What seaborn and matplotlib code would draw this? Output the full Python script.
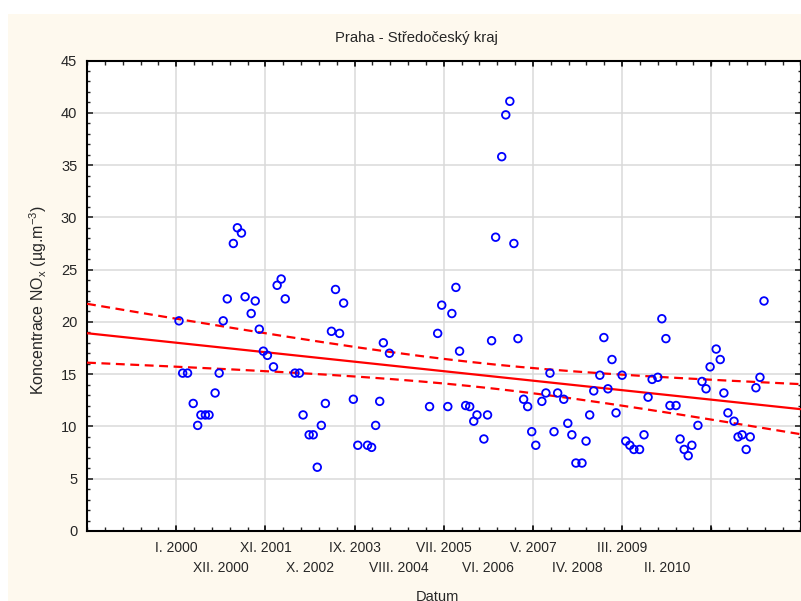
import numpy as np
import pandas as pd
import matplotlib
matplotlib.use("Agg")
import matplotlib.pyplot as plt
from matplotlib.patches import Rectangle
from matplotlib.ticker import MultipleLocator, FixedLocator, NullFormatter
import seaborn as sns

# Measurement time, months since January 2000
months = [0.7, 1.6, 2.8, 4.2, 5.3, 6.1, 7.2, 8.1, 9.6, 10.6, 11.6, 12.6,
          14.1, 15.1, 16.1, 17.0, 18.5, 19.5, 20.5, 21.5, 22.5, 24.0, 24.9,
          25.9, 26.9, 29.3, 30.4, 31.3, 32.8, 33.8, 34.8, 35.8, 36.8, 38.3,
          39.3, 40.3, 41.3, 43.7, 44.8, 47.2, 48.2, 49.2, 50.2, 51.1, 52.6,
          62.5, 64.5, 65.5, 67.0, 68.0, 69.0, 69.9, 71.4, 72.4, 73.4, 74.2,
          75.9, 76.8, 77.8, 78.8, 80.3, 81.3, 82.3, 83.3, 84.3, 85.7, 86.7,
          87.7, 88.7, 90.2, 91.2, 92.2, 93.2, 94.1, 95.6, 96.6, 97.6, 98.6,
          100.1, 101.1, 102.0, 103.0, 104.5, 105.5, 106.5, 107.5, 108.5,
          110.0, 110.9, 111.9, 112.9, 114.3, 115.4, 116.4, 117.4, 118.8,
          119.8, 120.8, 121.8, 123.3, 124.3, 125.3, 126.3, 127.2, 128.7,
          129.7, 130.7, 131.7, 133.2, 134.2, 135.1, 136.1, 137.6, 138.6,
          139.6, 140.6, 141.6, 143.0, 144.0, 145.0]

# NOx concentration (ug/m3)
nox = [20.1, 15.1, 15.1, 12.2, 10.1, 11.1, 11.1, 11.1, 13.2, 15.1, 20.1, 22.2,
       27.5, 29.0, 28.5, 22.4, 20.8, 22.0, 19.3, 17.2, 16.8, 15.7, 23.5,
       24.1, 22.2, 15.1, 15.1, 11.1, 9.2, 9.2, 6.1, 10.1, 12.2, 19.1,
       23.1, 18.9, 21.8, 12.6, 8.2, 8.2, 8.0, 10.1, 12.4, 18.0, 17.0,
       11.9, 18.9, 21.6, 11.9, 20.8, 23.3, 17.2, 12.0, 11.9, 10.5, 11.1,
       8.8, 11.1, 18.2, 28.1, 35.8, 39.8, 41.1, 27.5, 18.4, 12.6, 11.9,
       9.5, 8.2, 12.4, 13.2, 15.1, 9.5, 13.2, 12.6, 10.3, 9.2, 6.5,
       6.5, 8.6, 11.1, 13.4, 14.9, 18.5, 13.6, 16.4, 11.3,
       14.9, 8.6, 8.2, 7.8, 7.8, 9.2, 12.8, 14.5, 14.7,
       20.3, 18.4, 12.0, 12.0, 8.8, 7.8, 7.2, 8.2, 10.1,
       14.3, 13.6, 15.7, 17.4, 16.4, 13.2, 11.3, 10.5, 9.0,
       9.2, 7.8, 9.0, 13.7, 14.7, 22.0]

tick_months = [0, 11, 22, 33, 44, 55, 66, 77, 88, 99, 110, 121]
tick_labels = ["I. 2000", "XII. 2000", "XI. 2001", "X. 2002", "IX. 2003",
               "VIII. 2004", "VII. 2005", "VI. 2006", "V. 2007", "IV. 2008",
               "III. 2009", "II. 2010"]

df = pd.DataFrame({"Datum": months, "NOx": nox})

sns.set_style("ticks")
FONT = ["Liberation Sans", "DejaVu Sans"]
plt.rcParams["font.family"] = FONT
plt.rcParams["mathtext.default"] = "regular"

W, H = 801, 601
fig = plt.figure(figsize=(W / 100, H / 100), dpi=100)
fig.patch.set_facecolor("white")
fig.patches.append(Rectangle((8 / W, 0), 1, (H - 14) / H, transform=fig.transFigure,
                             facecolor="#FEF9EE", edgecolor="none", zorder=-10))

AX_TOP, AX_BOT = 60.5, 531
ax = fig.add_axes([87 / W, (H - AX_BOT) / H, (800.5 - 87) / W, (AX_BOT - AX_TOP) / H])
ax.set_facecolor("white")

XMIN, XMAX = -22, 154
ax.set_xlim(XMIN, XMAX)
ax.set_ylim(0, 45)

# grid
for gx in np.arange(XMIN, XMAX + 1, 22):
    ax.axvline(gx, color="#DADADA", lw=1.1, zorder=0)
for gy in np.arange(5, 45, 5):
    ax.axhline(gy, color="#DADADA", lw=1.1, zorder=0)

# regression line (extended over the full axis range)
sns.regplot(data=df, x="Datum", y="NOx", scatter=False, ci=None, truncate=False,
            line_kws=dict(color="#FF0000", lw=1.6, zorder=3), ax=ax)

# 95 % confidence band of the fitted line
x = np.asarray(months, float)
y = np.asarray(nox, float)
n = len(x)
b, a = np.polyfit(x, y, 1)
resid = y - (a + b * x)
s = np.sqrt(np.sum(resid ** 2) / (n - 2))
xg = np.linspace(XMIN, XMAX, 200)
se = s * np.sqrt(1 / n + (xg - x.mean()) ** 2 / np.sum((x - x.mean()) ** 2))
t = 1.98
band = pd.DataFrame({"x": xg, "lo": a + b * xg - t * se, "hi": a + b * xg + t * se})
for col in ("lo", "hi"):
    sns.lineplot(data=band, x="x", y=col, color="#FF0000", lw=1.6,
                 dashes=False, ax=ax, zorder=3)
for ln in ax.lines[-2:]:
    ln.set_linestyle((0, (4, 2.5)))

# data points
sns.scatterplot(data=df, x="Datum", y="NOx", marker="o", s=30,
                facecolor="none", edgecolor="#0000FF", linewidth=1.3,
                ax=ax, zorder=4)

# axes styling
for sp in ax.spines.values():
    sp.set_visible(True)
    sp.set_color("black")
    sp.set_linewidth(1.5)

ax.yaxis.set_major_locator(MultipleLocator(5))
ax.yaxis.set_minor_locator(MultipleLocator(1))
ax.xaxis.set_major_locator(FixedLocator(tick_months))
ax.xaxis.set_major_formatter(NullFormatter())
ax.xaxis.set_minor_locator(FixedLocator(np.arange(XMIN, XMAX + 0.1, 4.4)))

ax.tick_params(axis="x", which="major", length=0)
ax.tick_params(axis="x", which="minor", direction="in", length=3, width=1,
               top=True, bottom=True)
ax.tick_params(axis="y", which="major", direction="in", length=4, width=1.2,
               left=True, right=True, pad=7, labelsize=10.5)
ax.tick_params(axis="y", which="minor", direction="in", length=2, width=1,
               left=True, right=True)

# date labels in two staggered rows
axh = AX_BOT - AX_TOP
row_y = [-(548 - AX_BOT) / axh, -(568 - AX_BOT) / axh]
for i, (m, lab) in enumerate(zip(tick_months, tick_labels)):
    ax.text(m, row_y[i % 2], lab, transform=ax.get_xaxis_transform(),
            ha="center", va="center", fontsize=10)

# major x positions on the frame (every 22 months)
for gx in np.arange(XMIN, XMAX + 1, 22):
    ax.plot([gx, gx], [0, 0.5], color="black", lw=1.2, clip_on=False, zorder=5)
    ax.plot([gx, gx], [45, 44.5], color="black", lw=1.2, clip_on=False, zorder=5)

ax.set_xlabel("")
ax.set_ylabel("")
fig.text(437 / W, 1 - 597 / H, "Datum", ha="center", va="center", fontsize=10.5)
fig.text(38 / W, 1 - 300 / H, "Koncentrace NO$_x$ (µg.m$^{-3}$)", rotation=90,
         ha="center", va="center", fontsize=11.5)
fig.text(416 / W, 1 - 38 / H, "Praha - Středočeský kraj", ha="center",
         va="center", fontsize=10.7)

fig.savefig("out.png", dpi=100, facecolor=fig.get_facecolor())
